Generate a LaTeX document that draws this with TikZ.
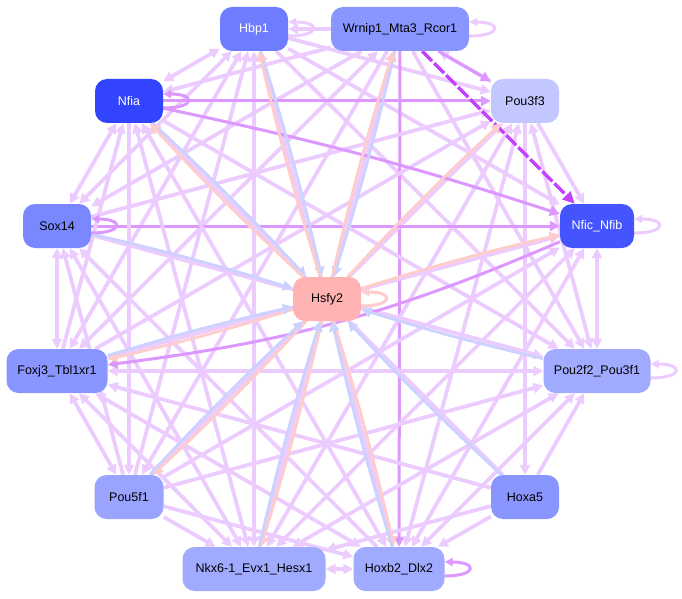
\documentclass[tikz,border=0pt]{standalone}
\usepackage{fontspec}
\setmainfont{Liberation Sans}
\usetikzlibrary{positioning,arrows.meta,backgrounds}
\definecolor{lilac}{RGB}{236,204,255}
\definecolor{mauve}{RGB}{220,152,255}
\definecolor{violet}{RGB}{196,64,255}
\definecolor{rose}{RGB}{255,204,204}
\definecolor{sky}{RGB}{204,210,255}

\begin{document}
\begin{tikzpicture}[x=1pt,y=-1pt,
  tf/.style={rounded corners=12pt,minimum height=44pt,inner sep=0pt,font=\fontsize{12.5}{14}\selectfont},
  e/.style={draw=lilac,line width=3.8pt,-{Triangle[length=10pt,width=10pt]}},
  eb/.style={draw=lilac,line width=3.8pt,{Triangle[length=10pt,width=10pt]}-{Triangle[length=10pt,width=10pt]}},
  ed/.style={draw=mauve,line width=3pt,-{Triangle[length=10pt,width=10pt]}},
  ev/.style={draw=violet,line width=3.4pt,dash pattern=on 14pt off 3pt,-{Triangle[length=12pt,width=11pt]}},
  ep/.style={draw=rose,line width=2.8pt,bend left=2,-{Triangle[length=10pt,width=10pt]}},
  ec/.style={draw=sky,line width=2.8pt,bend left=2,-{Triangle[length=10pt,width=10pt]}},
  lp/.style={line width=3pt,-{Triangle[length=8pt,width=8pt]}}]
\useasboundingbox (0,0) rectangle (682,599);
% nodes
\node[tf,fill={rgb,255:red,110;green,124;blue,255},text=white,minimum width=68pt] (hbp) at (254,29) {Hbp1};
\node[tf,fill={rgb,255:red,138;green,150;blue,255},minimum width=138pt] (wrn) at (400,29) {Wrnip1\_Mta3\_Rcor1};
\node[tf,fill={rgb,255:red,195;green,199;blue,255},minimum width=68pt] (pou3) at (525,101) {Pou3f3};
\node[tf,fill={rgb,255:red,51;green,68;blue,255},text=white,minimum width=68pt] (nfia) at (129,101) {Nfia};
\node[tf,fill={rgb,255:red,68;green,85;blue,255},text=white,minimum width=74pt] (nfic) at (597,226) {Nfic\_Nfib};
\node[tf,fill={rgb,255:red,122;green,136;blue,255},minimum width=68pt] (sox) at (57,226) {Sox14};
\node[tf,fill={rgb,255:red,255;green,179;blue,179},minimum width=68pt] (hsf) at (327,299) {Hsfy2};
\node[tf,fill={rgb,255:red,138;green,150;blue,255},minimum width=101pt] (fox) at (57,371) {Foxj3\_Tbl1xr1};
\node[tf,fill={rgb,255:red,160;green,170;blue,255},minimum width=107pt] (pou2) at (597,371) {Pou2f2\_Pou3f1};
\node[tf,fill={rgb,255:red,154;green,164;blue,255},minimum width=69pt] (pou5) at (129,497) {Pou5f1};
\node[tf,fill={rgb,255:red,138;green,150;blue,255},minimum width=68pt] (hoxa) at (525,497) {Hoxa5};
\node[tf,fill={rgb,255:red,160;green,170;blue,255},minimum width=143pt] (nkx) at (254,569) {Nkx6-1\_Evx1\_Hesx1};
\node[tf,fill={rgb,255:red,160;green,170;blue,255},minimum width=91pt] (hoxb) at (399,569) {Hoxb2\_Dlx2};
\begin{scope}[on background layer]
% edges between the outer nodes
\foreach \a/\b/\s in {wrn/hbp/e,hbp/pou3/e,hbp/nfic/e,hbp/pou2/e,hbp/hoxb/eb,hbp/nkx/eb,pou5/hbp/e,
  fox/hbp/eb,sox/hbp/eb,hbp/nfia/eb,pou3/wrn/e,wrn/pou2/e,wrn/hoxb/ed,wrn/nkx/eb,wrn/pou5/e,
  wrn/fox/eb,wrn/sox/e,wrn/nfia/e,pou3/nfic/e,pou3/pou2/eb,pou3/hoxa/e,pou3/hoxb/eb,pou3/nkx/eb,
  pou5/pou3/e,fox/pou3/e,sox/pou3/e,nfia/pou3/ed,nfic/pou2/eb,nfic/hoxb/eb,nfic/nkx/eb,pou5/nfic/e,
  fox/nfic/e,sox/nfic/ed,hoxa/pou2/e,hoxb/pou2/eb,nkx/pou2/eb,pou5/pou2/e,fox/pou2/eb,sox/pou2/e,
  nfia/pou2/e,hoxa/hoxb/e,hoxa/nkx/e,hoxa/fox/e,hoxa/nfia/e,hoxb/nkx/eb,pou5/hoxb/e,hoxb/fox/eb,
  hoxb/sox/e,hoxb/nfia/eb,pou5/nkx/e,nkx/fox/eb,nkx/sox/eb,nkx/nfia/eb,fox/pou5/eb,pou5/sox/e,
  nfia/pou5/e,fox/sox/eb,fox/nfia/e,sox/nfia/eb,wrn/pou3/ed}
  \draw[\s] (\a) to (\b);
\draw[ed] (nfia) to[bend left=3] (nfic);
\draw[ed] (nfic) to[bend left=8] (fox);
\draw[ev] (wrn) to (nfic);
% edges from and to Hsfy2
\foreach \a/\b/\s in {hbp/hsf/ec,hsf/hbp/ep,wrn/hsf/ec,hsf/wrn/ep,nfia/hsf/ec,hsf/nfia/ep,
  sox/hsf/ec,hsf/pou3/ep,hsf/nfic/ep,hsf/fox/ep,fox/hsf/ec,pou2/hsf/ec,hoxa/hsf/ec,
  hsf/pou5/ep,pou5/hsf/ec,hsf/nkx/ep,nkx/hsf/ec,hsf/hoxb/ep,hoxb/hsf/ec}
  \draw[\s] (\a) to (\b);
% self loops
\foreach \n/\c in {hbp/lilac,wrn/lilac,nfia/mauve,sox/mauve,nfic/lilac,pou2/lilac,hoxb/mauve,hsf/rose}
  \draw[lp,draw=\c] ([yshift=-7pt]\n.east) to[out=0,in=0,looseness=6] ([yshift=7pt]\n.east);
\end{scope}
\end{tikzpicture}
\end{document}
